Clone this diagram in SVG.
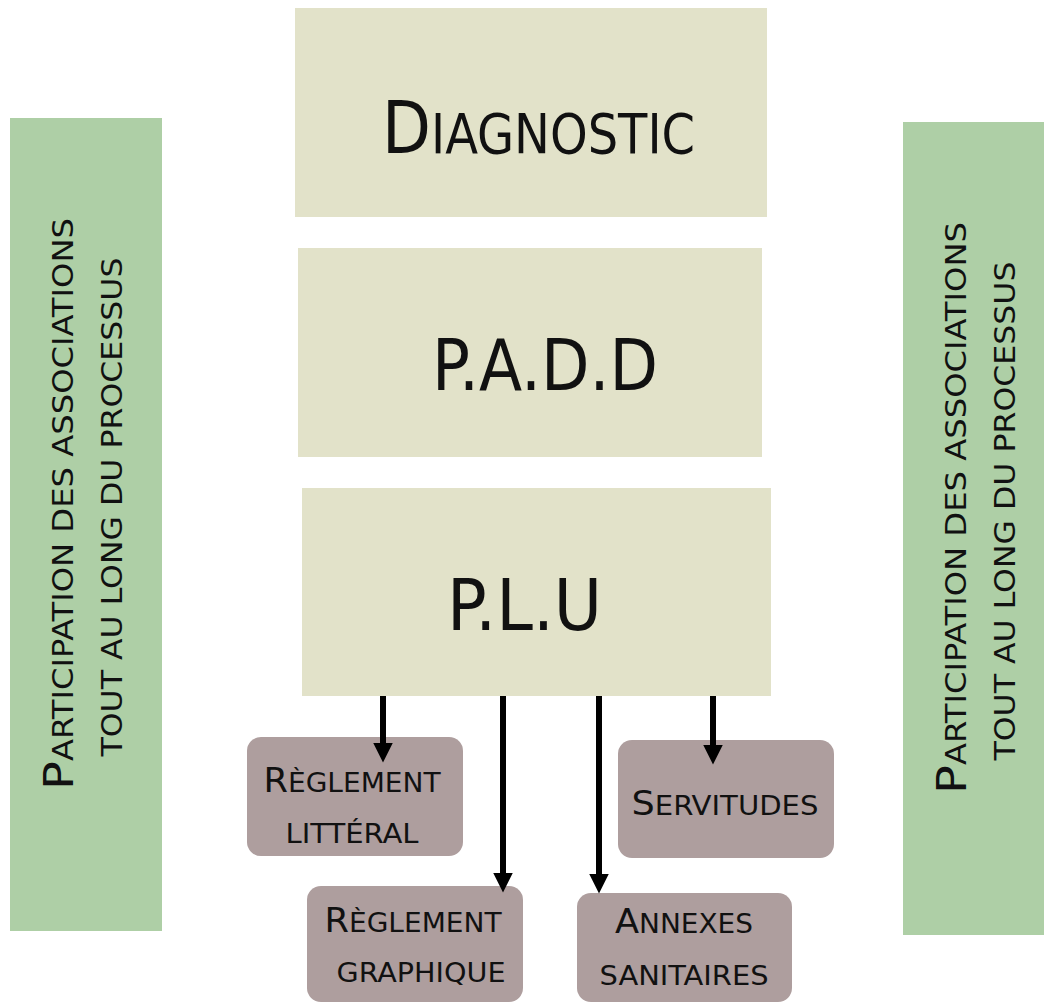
<svg xmlns="http://www.w3.org/2000/svg" width="1044" height="1006" viewBox="0 0 1044 1006">
  <style>
    text { font-family: "DejaVu Sans Condensed", "DejaVu Sans", sans-serif; font-stretch: condensed; fill: #111; }
    .main { fill: #e2e2c9; }
    .side { fill: #aecfa6; }
    .sub { fill: #ae9e9e; }
    .arrow { stroke: #000; stroke-width: 6; fill: none; marker-end: url(#ah); }
  </style>
  <defs>
    <marker id="ah" markerUnits="userSpaceOnUse" markerWidth="20" markerHeight="20" refX="4" refY="9" orient="auto" viewBox="0 0 18 18">
      <path d="M0,0 L18,9 L0,18 z" fill="#000"/>
    </marker>
  </defs>
  <rect width="1044" height="1006" fill="#fff"/>

  <g id="side-left">
    <rect class="side" x="10" y="118" width="152" height="813"/>
    <text transform="translate(73,504) rotate(-90)" text-anchor="middle" textLength="572" lengthAdjust="spacingAndGlyphs"><tspan font-size="41">P</tspan><tspan font-size="27.5">ARTICIPATION DES ASSOCIATIONS</tspan></text>
    <text transform="translate(122,507) rotate(-90)" text-anchor="middle" textLength="499" lengthAdjust="spacingAndGlyphs" font-size="27.5">TOUT AU LONG DU PROCESSUS</text>
  </g>

  <g id="side-right">
    <rect class="side" x="903" y="122" width="141" height="813"/>
    <text transform="translate(966,508) rotate(-90)" text-anchor="middle" textLength="572" lengthAdjust="spacingAndGlyphs"><tspan font-size="41">P</tspan><tspan font-size="27.5">ARTICIPATION DES ASSOCIATIONS</tspan></text>
    <text transform="translate(1015,511) rotate(-90)" text-anchor="middle" textLength="499" lengthAdjust="spacingAndGlyphs" font-size="27.5">TOUT AU LONG DU PROCESSUS</text>
  </g>

  <g id="diagnostic">
    <rect class="main" x="295" y="8" width="472" height="209"/>
    <text x="538.5" y="153" text-anchor="middle" textLength="313" lengthAdjust="spacingAndGlyphs"><tspan font-size="73">D</tspan><tspan font-size="55">IAGNOSTIC</tspan></text>
  </g>

  <g id="padd">
    <rect class="main" x="298" y="248" width="464" height="209"/>
    <text x="545" y="390" text-anchor="middle" font-size="71" textLength="226" lengthAdjust="spacingAndGlyphs">P.A.D.D</text>
  </g>

  <g id="plu">
    <rect class="main" x="302" y="488" width="469" height="208"/>
    <text x="524.5" y="630" text-anchor="middle" font-size="71" textLength="155" lengthAdjust="spacingAndGlyphs">P.L.U</text>
  </g>

  <g id="reglement-litteral">
    <rect class="sub" x="247" y="737" width="216" height="119" rx="14"/>
    <text x="352" y="792" text-anchor="middle" textLength="177" lengthAdjust="spacingAndGlyphs"><tspan font-size="34">R</tspan><tspan font-size="27">ÈGLEMENT</tspan></text>
    <text x="352" y="843" text-anchor="middle" font-size="27" textLength="133" lengthAdjust="spacingAndGlyphs">LITTÉRAL</text>
  </g>

  <g id="servitudes">
    <rect class="sub" x="618" y="740" width="216" height="118" rx="14"/>
    <text x="725" y="815" text-anchor="middle" textLength="187" lengthAdjust="spacingAndGlyphs"><tspan font-size="34">S</tspan><tspan font-size="27">ERVITUDES</tspan></text>
  </g>

  <g id="reglement-graphique">
    <rect class="sub" x="307" y="886" width="216" height="116" rx="14"/>
    <text x="413" y="932" text-anchor="middle" textLength="177" lengthAdjust="spacingAndGlyphs"><tspan font-size="34">R</tspan><tspan font-size="27">ÈGLEMENT</tspan></text>
    <text x="421" y="982" text-anchor="middle" font-size="27" textLength="169" lengthAdjust="spacingAndGlyphs">GRAPHIQUE</text>
  </g>

  <g id="annexes-sanitaires">
    <rect class="sub" x="577" y="893" width="215" height="109" rx="14"/>
    <text x="684" y="933" text-anchor="middle" textLength="138" lengthAdjust="spacingAndGlyphs"><tspan font-size="34">A</tspan><tspan font-size="27">NNEXES</tspan></text>
    <text x="684" y="985" text-anchor="middle" font-size="27" textLength="169" lengthAdjust="spacingAndGlyphs">SANITAIRES</text>
  </g>

  <g id="connectors">
    <line class="arrow" x1="383" y1="696" x2="383" y2="747"/>
    <line class="arrow" x1="503" y1="696" x2="503" y2="877"/>
    <line class="arrow" x1="599" y1="696" x2="599" y2="878"/>
    <line class="arrow" x1="713" y1="696" x2="713" y2="749"/>
  </g>
</svg>
